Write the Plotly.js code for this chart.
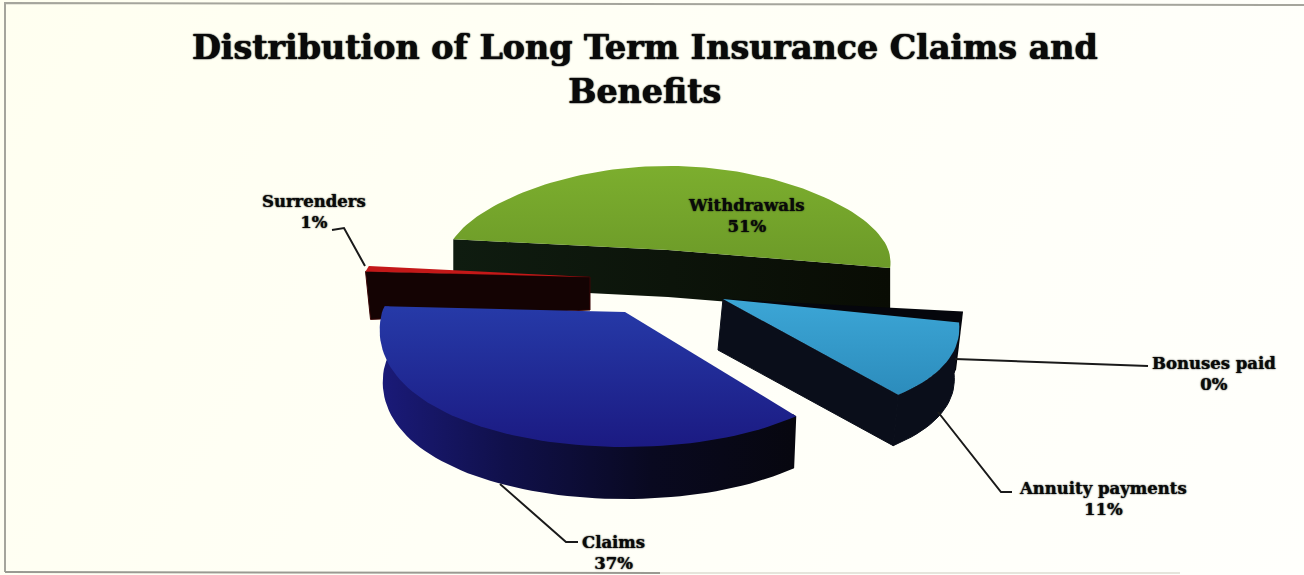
<!DOCTYPE html>
<html>
<head>
<meta charset="utf-8">
<script src="https://cdn.plot.ly/plotly-3.0.1.min.js"></script>
<style>html,body{margin:0;padding:0;background:linear-gradient(120deg,#fffff0 0%,#fffff6 45%,#fffffc 100%);overflow:hidden}#chart{width:1304px;height:575px}</style>
</head>
<body>
<div id="chart"></div>
<script>
// ---- data ----
var categories = ['Withdrawals', 'Bonuses paid', 'Annuity payments', 'Claims', 'Surrenders'];
var shares = [51, 0, 11, 37, 1];
var chartTitle = 'Distribution of Long Term Insurance Claims and<br>Benefits';

// ---- drawing set-up: perspective and explosion of each slice (pixels of the 1:1 axes) ----
var startAngle = -82.7;
var geometry = {
  'Withdrawals':      {ax:668, ay:250, rx:220.4, ryB:84, ryF:95,  p:.14,  h:47, dx:0,  k:0},
  'Annuity payments': {ax:723, ay:299, rx:229,   ryB:90, ryF:124, p:.263, h:51, dx:-5, k:0},
  'Bonuses paid':     {ax:723, ay:299, rx:229,   ryB:90, ryF:124, p:.263, h:51, dx:-5, k:0},
  'Claims':           {ax:625, ay:312, rx:243,   ryB:90, ryF:135, p:.14,  h:52, dx:0,  k:.0125},
  'Surrenders':       {ax:590, ay:277, rx:227,   ryB:87, ryF:100, p:.14,  h:33, dx:5,  k:0}
};
var topColors = {
  'Withdrawals': ['#7cae2e','#6c9a28'],
  'Annuity payments': ['#3ca6d6','#2c8cbc'],
  'Bonuses paid': ['#05060c','#05060c'],
  'Claims': ['#263aa8','#1b1a82'],
  'Surrenders': ['#c41818','#a81212']
};

function rad(d){return d*Math.PI/180;}
function project(g, deg, rf){
  var s=Math.sin(rad(deg)), c=Math.cos(rad(deg)), ry=c>0?g.ryB:g.ryF;
  return [g.ax+g.rx*rf*s*(1-g.p*c), g.ay-ry*rf*c];
}
function arc(g, a0, a1, rf){
  var n=Math.max(2,Math.ceil(Math.abs(a1-a0)/2)), out=[];
  for(var i=0;i<=n;i++) out.push(project(g,a0+(a1-a0)*i/n,rf===undefined?1:rf));
  return out;
}
function poly(pts, name, fillOpts, hover){
  var xs=pts.map(function(p){return p[0];}), ys=pts.map(function(p){return p[1];});
  var t={type:'scatter',mode:'lines',x:xs.concat(xs[0]),y:ys.concat(ys[0]),fill:'toself',
    line:{width:fillOpts.edge?1:0,color:fillOpts.edge||'rgba(0,0,0,0)'},name:name,showlegend:false,
    hoverinfo:hover?'text':'skip',text:hover||undefined,hoveron:'fills'};
  if(fillOpts.stops){
    t.fillgradient={type:fillOpts.dir||'vertical',colorscale:fillOpts.stops};
    t.fillcolor=fillOpts.stops[0][1];
  } else { t.fillcolor=fillOpts.color; }
  return t;
}
function drop(g, pts){
  return pts.map(function(p){return [p[0]+g.dx+g.k*(g.ax-p[0]), p[1]+g.h];}).reverse();
}

// angular spans come from the shares
var spans={}, cursor=startAngle;
categories.forEach(function(c,i){ var sweep=shares[i]*3.6; spans[c]=[cursor,cursor+sweep]; cursor+=sweep; });

var traces=[];
function hoverText(c){ return c+': '+shares[categories.indexOf(c)]+'%'; }

// Withdrawals: cut faces, then top
(function(){
  var c='Withdrawals', g=geometry[c], s=spans[c];
  var left=project(g,s[0],1), right=project(g,s[1],1), apex=project(g,s[0],0);
  var edge=[left,apex,right];
  traces.push(poly(edge.concat(drop(g,edge)),c+' wall',{stops:[[0,'#0f1c10'],[1,'#090c04']],dir:'horizontal'}));
  traces.push(poly([apex].concat(arc(g,s[0],s[1])),c,{stops:[[0,topColors[c][1]],[1,topColors[c][0]]]},hoverText(c)));
})();

// Surrenders: cut face, then thin top
(function(){
  var c='Surrenders', g=geometry[c], s=spans[c];
  var apex=project(g,s[0],0), rim0=project(g,s[0],1), rim1=project(g,s[1],1);
  traces.push(poly([apex,rim0,[rim0[0]+g.dx,rim0[1]+48],[apex[0],apex[1]+g.h]],c+' wall',{color:'#140303',edge:'#3a0606'}));
  traces.push(poly([apex,rim0,rim1],c,{color:topColors[c][0]},hoverText(c)));
})();

// Bonuses paid: a zero share leaves only its dark face behind the annuity slice
(function(){
  var c='Bonuses paid', g=geometry[c], s=spans[c];
  var apex=project(g,s[0],0), rimIn=project(g,s[0],1), rimOut=project(g,s[0]-5.3,1.027);
  traces.push(poly([apex,rimOut,[rimOut[0]-7,rimOut[1]+58],[rimIn[0]+g.dx,rimIn[1]+g.h]],c,{color:topColors[c][0]},hoverText(c)));
})();

// Annuity payments: rim wall, cut face, top
(function(){
  var c='Annuity payments', g=geometry[c], s=spans[c];
  var apex=project(g,s[0],0), rim=arc(g,s[0],s[1]), tip=rim[rim.length-1];
  traces.push(poly(rim.concat(drop(g,rim)),c+' rim',{color:'#0a0e1a',edge:'#0a0e1a'}));
  traces.push(poly([apex,tip].concat(drop(g,[apex,tip])),c+' wall',{color:'#0a0e1a',edge:'#0a0e1a'}));
  traces.push(poly([apex].concat(rim),c,{stops:[[0,topColors[c][1]],[1,topColors[c][0]]]},hoverText(c)));
})();

// Claims: rim wall (its upper edge tucked under the top face), then top
(function(){
  var c='Claims', g=geometry[c], s=spans[c];
  var rim=arc(g,s[0],s[1]), inner=arc(g,s[0],s[1],0.98), apex=project(g,s[0],0);
  var upper=[rim[0]].concat(inner).concat([rim[rim.length-1]]);
  traces.push(poly(upper.concat(drop(g,rim)),c+' rim',{stops:[[0,'#1a1a78'],[.3,'#10104a'],[.65,'#090920'],[1,'#07070f']],dir:'horizontal'}));
  traces.push(poly([apex].concat(rim),c,{stops:[[0,topColors[c][1]],[1,topColors[c][0]]]},hoverText(c)));
})();

var labelFont={family:'"DejaVu Serif", serif',size:16.5,color:'#0a0a0a',shadow:'0 0 1.5px #000'};
function label(cat,x,y){
  return {x:x,y:y,xref:'x',yref:'y',showarrow:false,xanchor:'center',yanchor:'middle',align:'center',font:labelFont,
    text:'<b>'+cat+'<br>'+shares[categories.indexOf(cat)]+'%</b>'};
}
var leaders=[
  'M332,230 L344,228 L365,266',
  'M955,359 L1148,366',
  'M938,412 L1001,492 L1012,492',
  'M500,484 L566,542 L578,542'
].map(function(p){return {type:'path',path:p,xref:'x',yref:'y',line:{color:'#1a1a1a',width:2},layer:'above'};});
leaders.push({type:'path',path:'M5,572 L5,3 L1304,5',xref:'x',yref:'y',line:{color:'#a5a59c',width:2},layer:'below'});
leaders.push({type:'path',path:'M5,572 L660,573',xref:'x',yref:'y',line:{color:'#9a9a92',width:2},layer:'below'});
leaders.push({type:'path',path:'M660,573 L1180,573',xref:'x',yref:'y',line:{color:'#dcdcd2',width:1.5},layer:'below'});

Plotly.newPlot('chart',traces,{
  width:1304,height:575,
  margin:{l:0,r:0,t:0,b:0},
  paper_bgcolor:'rgba(0,0,0,0)',plot_bgcolor:'rgba(0,0,0,0)',
  showlegend:false,
  title:{text:'<b>'+chartTitle+'</b>',x:0.4945,xanchor:'center',y:0.897,yanchor:'bottom',
    font:{family:'"DejaVu Serif", serif',size:33.3,color:'#0a0a0a',shadow:'0 0 1.5px #000, 0 0 1px #000'}},
  xaxis:{range:[0,1304],visible:false,fixedrange:true},
  yaxis:{range:[575,0],visible:false,fixedrange:true},
  shapes:leaders,
  annotations:[
    label('Withdrawals',746,216),
    label('Surrenders',314,212),
    label('Bonuses paid',1214,374),
    label('Annuity payments',1103,499),
    label('Claims',613,553)
  ]
},{displayModeBar:false,responsive:false});
</script>
</body>
</html>
